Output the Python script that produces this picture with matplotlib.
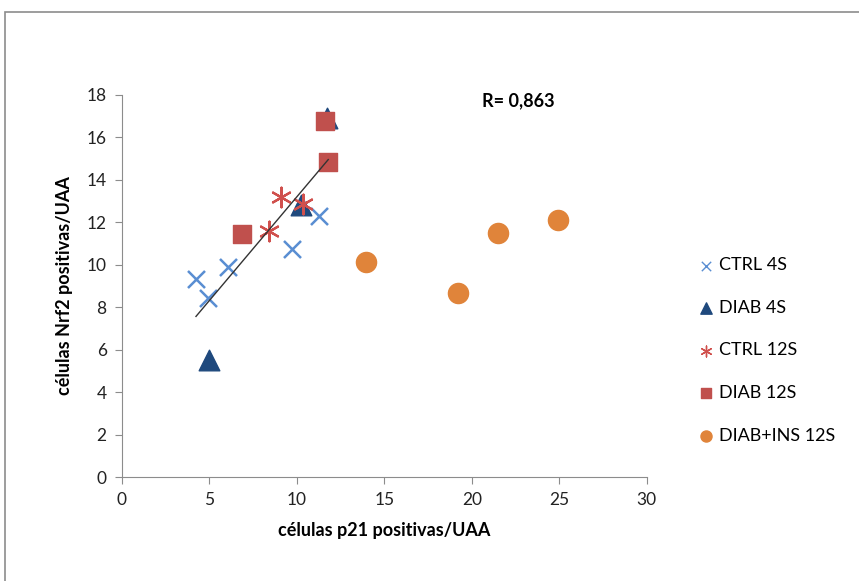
import numpy as np
import matplotlib
matplotlib.use("Agg")
import matplotlib.pyplot as plt
from matplotlib.patches import Rectangle

plt.rcParams['font.family'] = ['Lato', 'DejaVu Sans']

# p21 (x) vs Nrf2 (y) positive cells per group
ctrl4_x = [4.23, 4.93, 6.08, 9.73, 11.28]
ctrl4_y = [9.32, 8.42, 9.91, 10.73, 12.27]
diab4_x = [4.97, 10.23, 11.73]
diab4_y = [5.5, 12.8, 16.9]
ctrl12_x = [9.09, 8.42, 10.36]
ctrl12_y = [13.16, 11.56, 12.86]
diab12_x = [6.86, 11.58, 11.79]
diab12_y = [11.44, 16.76, 14.84]
ins12_x = [13.94, 19.2, 21.5, 24.9]
ins12_y = [10.13, 8.66, 11.47, 12.11]

labels = ['CTRL 4S', 'DIAB 4S', 'CTRL 12S', 'DIAB 12S', 'DIAB+INS 12S']
r_text = 'R= 0,863'

fig = plt.figure(figsize=(8.59, 5.81), dpi=100)
ax = fig.add_axes([0.142, 0.179, 0.611, 0.658])

ax.scatter(ctrl4_x, ctrl4_y, marker='x', s=150, linewidths=1.8, color='#5A8ED2', label=labels[0], zorder=3)
ax.scatter(diab4_x, diab4_y, marker='^', s=220, color='#1F497D', label=labels[1], zorder=3)
ax.scatter(ctrl12_x, ctrl12_y, marker=(6, 2, 0), s=200, linewidths=1.6, color='#D0504D', label=labels[2], zorder=3)
ax.scatter(diab12_x, diab12_y, marker='s', s=180, color='#C0504D', label=labels[3], zorder=3)
ax.scatter(ins12_x, ins12_y, marker='o', s=210, color='#E0843A', label=labels[4], zorder=3)

# linear trend over the control/diabetic groups
tx = np.array(ctrl4_x + diab4_x + ctrl12_x + diab12_x)
ty = np.array(ctrl4_y + diab4_y + ctrl12_y + diab12_y)
k, b = np.polyfit(tx, ty, 1)
xs = np.array([tx.min(), tx.max()])
ax.plot(xs, k * xs + b, color='#333333', lw=1, zorder=4)

ax.set_xlim(0, 30)
ax.set_ylim(0, 18)
ax.set_xticks(range(0, 31, 5))
ax.set_yticks(range(0, 19, 2))
for s in ['top', 'right']:
    ax.spines[s].set_visible(False)
for s in ['left', 'bottom']:
    ax.spines[s].set_color('#8c8c8c')
ax.tick_params(axis='both', direction='out', length=5, color='#8c8c8c', labelsize=12.5, labelcolor='#222222', pad=6)

ax.set_xlabel('células p21 positivas/UAA', fontsize=13, fontweight='bold', labelpad=10)
ax.set_ylabel('células Nrf2 positivas/UAA', fontsize=13, fontweight='bold', labelpad=10)

ax.text(20.6, 17.7, r_text, fontsize=13, fontweight='bold', va='center', ha='left')

leg = fig.legend(loc='upper left', bbox_to_anchor=(0.79, 0.585), frameon=False, fontsize=13,
                 labelspacing=1.47, handletextpad=0.15, handlelength=1.2, markerscale=0.55)
for h in leg.legend_handles:
    h.set_linewidth(1.0)

# outer chart border
fig.add_artist(Rectangle((5 / 859, -0.1), 1.1, 0.1 + (581 - 12) / 581, transform=fig.transFigure,
                         fill=False, edgecolor='#8c8c8c', lw=1.2))

fig.savefig('out.png', dpi=100)
